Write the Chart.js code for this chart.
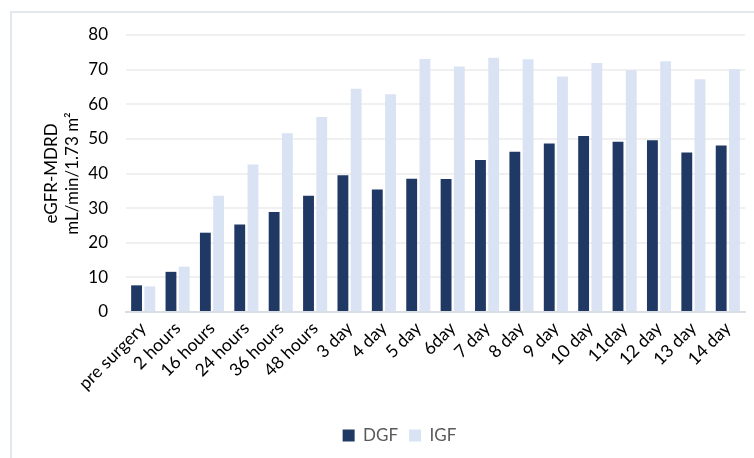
<!DOCTYPE html>
<html>
<head>
<meta charset="utf-8">
<script src="https://cdn.jsdelivr.net/npm/chart.js@4/dist/chart.umd.min.js"></script>
<style>
  html, body { margin: 0; padding: 0; background: #fff; }
  #wrap { position: relative; width: 754px; height: 458px; overflow: hidden; }
  #frame { position: absolute; left: 10px; top: 11px; width: 800px; height: 500px;
           border-left: 2px solid #e3e8ef; border-top: 2px solid #e3e8ef; }
  canvas { position: absolute; left: 0; top: 0; }
</style>
</head>
<body>
<div id="wrap">
  <div id="frame"></div>
  <canvas id="c" width="754" height="458"></canvas>
</div>
<script>
const categories = ["pre surgery", "2 hours", "16 hours", "24 hours", "36 hours", "48 hours",
  "3 day", "4 day", "5 day", "6day", "7 day", "8 day", "9 day", "10 day", "11day", "12 day", "13 day", "14 day"];
const dgfValues = [7.7, 11.6, 22.9, 25.3, 28.9, 33.6, 39.5, 35.4, 38.5, 38.4, 43.9, 46.3, 48.7, 50.8, 49.2, 49.6, 46.1, 48.1];
const igfValues = [7.4, 13.1, 33.6, 42.6, 51.6, 56.3, 64.5, 62.9, 73.1, 70.9, 73.4, 73.0, 68.0, 71.9, 69.8, 72.4, 67.2, 70.1];
const yTicks = [0, 10, 20, 30, 40, 50, 60, 70, 80];
const seriesNames = ["DGF", "IGF"];
const yTitle = ["eGFR-MDRD", "mL/min/1.73 m\u00B2"];

const FONT = "Lato, Carlito, Calibri, 'Open Sans', sans-serif";

const yTitlePlugin = {
  id: 'yTitle',
  afterDraw(chart) {
    const ctx = chart.ctx;
    const a = chart.chartArea;
    const cy = (a.top + a.bottom) / 2;
    ctx.save();
    ctx.fillStyle = '#000';
    ctx.font = "17px " + FONT;
    ctx.textAlign = 'center';
    ctx.textBaseline = 'middle';
    const xs = [52, 73];
    yTitle.forEach((t, i) => {
      ctx.save();
      ctx.translate(xs[i], cy);
      ctx.rotate(-Math.PI / 2);
      ctx.fillText(t, 0, 0);
      ctx.restore();
    });
    ctx.restore();
  }
};

new Chart(document.getElementById('c'), {
  type: 'bar',
  data: {
    labels: categories,
    datasets: [
      { label: seriesNames[0], data: dgfValues, backgroundColor: '#203864' },
      { label: seriesNames[1], data: igfValues, backgroundColor: '#dae3f3' }
    ]
  },
  plugins: [yTitlePlugin],
  options: {
    responsive: false,
    animation: false,
    devicePixelRatio: 1,
    datasets: { bar: { categoryPercentage: 0.77, barPercentage: 0.82 } },
    layout: { padding: { left: 54, right: 9, top: 35, bottom: 4 } },
    plugins: {
      tooltip: { enabled: false },
      legend: {
        position: 'bottom',
        labels: {
          font: { family: FONT, size: 17 },
          color: '#595959',
          boxWidth: 12, boxHeight: 12,
          padding: 11
        }
      }
    },
    scales: {
      x: {
        grid: { display: false, drawTicks: false },
        border: { display: true, color: '#d9dde4', width: 2 },
        ticks: {
          color: '#000',
          font: { family: FONT, size: 17.5 },
          minRotation: 45, maxRotation: 45,
          padding: 6,
          autoSkip: false
        },
        afterFit: (s) => { s.height = 104; }
      },
      y: {
        min: 0, max: 80,
        afterBuildTicks: (s) => { s.ticks = yTicks.map(v => ({ value: v })); },
        grid: {
          drawTicks: false,
          color: (ctx) => ctx.tick && ctx.tick.value === 0 ? 'rgba(0,0,0,0)' : '#f0f0f0',
          lineWidth: 2
        },
        border: { display: false },
        ticks: {
          color: '#000',
          font: { family: FONT, size: 17 },
          padding: 18
        },
        afterFit: (s) => { s.width = 72; }
      }
    }
  }
});
</script>
</body>
</html>
